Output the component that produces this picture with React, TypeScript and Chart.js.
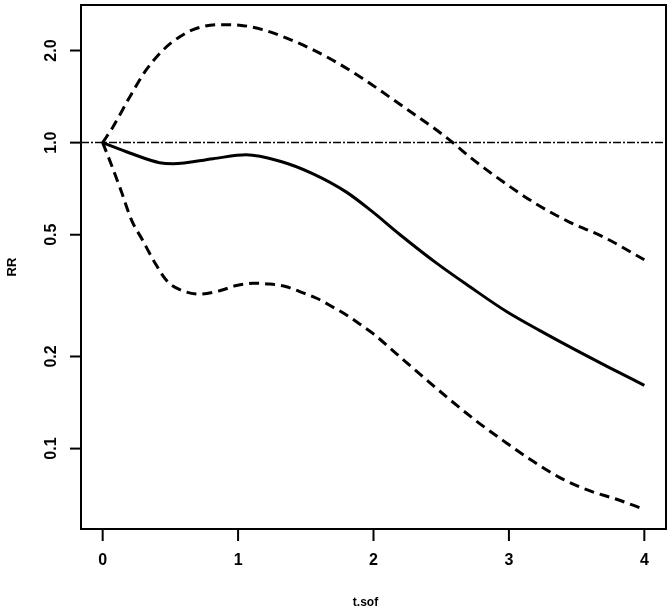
import React, { useEffect, useRef } from "react";
import { Chart, registerables } from "chart.js";

Chart.register(...registerables);

const xTicks = [0, 1, 2, 3, 4];
const xTickLabels = ["0", "1", "2", "3", "4"];
const yTicks = [0.1, 0.2, 0.5, 1.0, 2.0];
const yTickLabels = ["0.1", "0.2", "0.5", "1.0", "2.0"];
const xTitle = "t.sof";
const yTitle = "RR";
const refValue = 1.0;

const rrX = [0, 0.2, 0.42, 0.52, 0.815, 1.06, 1.31, 1.55, 1.8, 1.987, 2.194, 2.468, 2.712, 2.985, 3.229, 3.488, 3.731, 4.0];
const rrY = [1.0, 0.925, 0.86, 0.853, 0.886, 0.913, 0.869, 0.792, 0.689, 0.597, 0.501, 0.403, 0.338, 0.28, 0.243, 0.2105, 0.185, 0.161];

const upX = [0, 0.076, 0.2, 0.32, 0.445, 0.57, 0.69, 0.865, 1.01, 1.18, 1.43, 1.68, 1.92, 2.22, 2.468, 2.586, 2.712, 2.96, 3.2, 3.45, 3.7, 4.0];
const upY = [1.0, 1.125, 1.41, 1.725, 2.005, 2.22, 2.36, 2.43, 2.42, 2.34, 2.13, 1.88, 1.62, 1.31, 1.097, 1.0, 0.897, 0.743, 0.631, 0.549, 0.491, 0.414];

const loX = [0, 0.066, 0.14, 0.214, 0.296, 0.384, 0.48, 0.591, 0.717, 0.864, 0.988, 1.11, 1.234, 1.357, 1.455, 1.58, 1.7, 1.8, 1.9, 2.0, 2.17, 2.37, 2.56, 2.76, 2.96, 3.155, 3.376, 3.6, 3.795, 4.0];
const loY = [1.0, 0.843, 0.688, 0.557, 0.479, 0.406, 0.351, 0.328, 0.32, 0.328, 0.341, 0.347, 0.345, 0.338, 0.326, 0.31, 0.29, 0.2735, 0.255, 0.237, 0.204, 0.171, 0.145, 0.123, 0.106, 0.0923, 0.0804, 0.0727, 0.0683, 0.0633];

const xMin = -0.16;
const xMax = 4.16;
const yMin = 0.0546;
const yMax = 2.817;

const pts = (xs: number[], ys: number[]) => xs.map((x, i) => ({ x, y: ys[i] }));

const FONT = "Liberation Sans, Arial, sans-serif";

const axesPlugin = {
  id: "rAxes",
  afterDraw(chart: any) {
    const { ctx, chartArea } = chart;
    const xs = chart.scales.x;
    const ys = chart.scales.y;
    ctx.save();
    ctx.strokeStyle = "#000";
    ctx.fillStyle = "#000";
    ctx.lineWidth = 2;
    ctx.setLineDash([]);
    ctx.strokeRect(chartArea.left, chartArea.top, chartArea.right - chartArea.left, chartArea.bottom - chartArea.top);

    ctx.font = "bold 16px " + FONT;
    ctx.textAlign = "center";
    ctx.textBaseline = "middle";
    xTicks.forEach((v, i) => {
      const px = xs.getPixelForValue(v);
      ctx.beginPath();
      ctx.moveTo(px, chartArea.bottom);
      ctx.lineTo(px, chartArea.bottom + 12);
      ctx.stroke();
      ctx.fillText(xTickLabels[i], px, chartArea.bottom + 32);
    });
    yTicks.forEach((v, i) => {
      const py = ys.getPixelForValue(v);
      ctx.beginPath();
      ctx.moveTo(chartArea.left, py);
      ctx.lineTo(chartArea.left - 11, py);
      ctx.stroke();
      ctx.save();
      ctx.translate(chartArea.left - 29, py);
      ctx.rotate(-Math.PI / 2);
      ctx.fillText(yTickLabels[i], 0, 0);
      ctx.restore();
    });
    ctx.font = "bold 12px " + FONT;
    ctx.fillText(xTitle, (chartArea.left + chartArea.right) / 2 - 8, chartArea.bottom + 74);
    ctx.save();
    ctx.font = "bold 13px " + FONT;
    ctx.translate(12, (chartArea.top + chartArea.bottom) / 2);
    ctx.rotate(-Math.PI / 2);
    ctx.fillText(yTitle, 0, 0);
    ctx.restore();
    ctx.restore();
  },
};

export default function App() {
  const ref = useRef<HTMLCanvasElement>(null);
  useEffect(() => {
    if (!ref.current) return;
    const chart = new Chart(ref.current, {
      type: "line",
      data: {
        datasets: [
          {
            data: [{ x: xMin, y: refValue }, { x: xMax, y: refValue }],
            borderColor: "#000",
            borderWidth: 1.5,
            borderDash: [8, 2, 2, 2],
            pointRadius: 0,
            tension: 0,
          },
          {
            data: pts(upX, upY),
            borderColor: "#000",
            borderWidth: 3,
            borderDash: [10, 6],
            pointRadius: 0,
            cubicInterpolationMode: "monotone",
          },
          {
            data: pts(loX, loY),
            borderColor: "#000",
            borderWidth: 3,
            borderDash: [10, 6],
            pointRadius: 0,
            cubicInterpolationMode: "monotone",
          },
          {
            data: pts(rrX, rrY),
            borderColor: "#000",
            borderWidth: 3,
            pointRadius: 0,
            cubicInterpolationMode: "monotone",
          },
        ],
      },
      options: {
        responsive: false,
        animation: false,
        layout: { padding: { left: 81, right: 6, top: 5, bottom: 83 } },
        plugins: { legend: { display: false }, tooltip: { enabled: false } },
        scales: {
          x: { type: "linear", min: xMin, max: xMax, display: false },
          y: { type: "logarithmic", min: yMin, max: yMax, display: false },
        },
      },
      plugins: [axesPlugin],
    });
    return () => chart.destroy();
  }, []);
  return (
    <div style={{ position: "fixed", left: 0, top: 0, width: 672, height: 612, background: "#fff" }}>
      <canvas ref={ref} width={672} height={612} />
    </div>
  );
}
